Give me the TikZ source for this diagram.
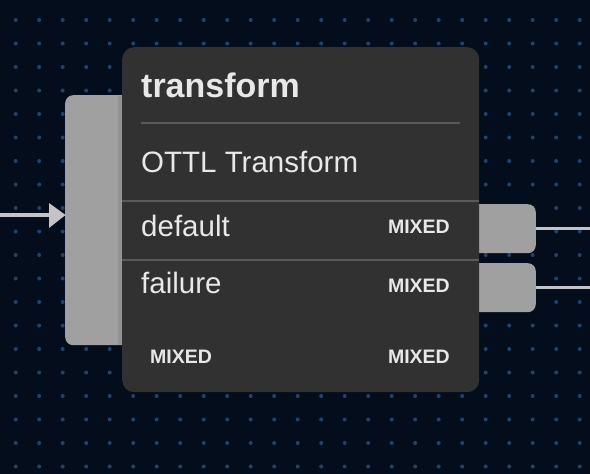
\documentclass[tikz,border=0pt]{standalone}
\usepackage{fontspec}
\setmainfont{Liberation Sans}
\definecolor{bgc}{HTML}{030D1B}
\definecolor{dotc}{HTML}{21436B}
\definecolor{cardc}{HTML}{313131}
\definecolor{portc}{HTML}{A0A0A0}
\definecolor{sepc}{HTML}{5A5A5A}
\definecolor{txtc}{HTML}{E8E8E8}
\definecolor{wirec}{HTML}{C4C4C8}
\tikzset{
  portbox/.style={fill=portc, draw=none, rounded corners=8pt, inner sep=0pt},
  wire/.style={draw=wirec, line width=3pt},
  sepline/.style={draw=sepc, line width=2pt},
  title/.style={anchor=base west, inner sep=0pt, text=txtc, font=\fontsize{34}{34}\selectfont\bfseries},
  label/.style={anchor=base west, inner sep=0pt, text=txtc, font=\fontsize{29.5}{29.5}\selectfont},
  tag/.style={inner sep=0pt, text=txtc, font=\fontsize{19.5}{19.5}\selectfont\bfseries},
}
\begin{document}
\begin{tikzpicture}[x=1pt,y=-1pt]
\fill[bgc] (0,0) rectangle (590,474);
\useasboundingbox (0,0) rectangle (590,474);
% dot grid
\foreach \i in {0,...,24} {
  \foreach \j in {0,...,19} {
    \fill[dotc] ({15.7+23.5*\i},{20+23.5*\j}) circle (2pt);
  }
}
% input port
\node[portbox, minimum width=70pt, minimum height=250pt, anchor=north west] (inport) at (65,95) {};
% output ports
\node[portbox, minimum width=70pt, minimum height=49pt, anchor=north east] (outdef) at (536,204) {};
\node[portbox, minimum width=70pt, minimum height=49pt, anchor=north east] (outfail) at (536,263) {};
% card
\node[fill=cardc, rounded corners=12pt, minimum width=357pt, minimum height=345pt, anchor=north west, inner sep=0pt] (card) at (122,47) {};
\fill[black, opacity=0.08] (118,95.5) rectangle (122,344.5);
% separators
\draw[sepline] (141,123) -- (460,123);
\draw[sepline] (122,201) -- (479,201);
\draw[sepline] (122,260) -- (479,260);
% texts
\node[title] (ttl) at (141,97) {transform};
\node[label] (sub) at (141,172) {OTTL Transform};
\node[label] (ldef) at (141,236) {default};
\node[label] (lfail) at (141,293) {failure};
\node[tag, anchor=base east] (tdef) at (450,233) {MIXED};
\node[tag, anchor=base east] (tfail) at (450,292) {MIXED};
\node[tag, anchor=base west] (tin) at (150,363) {MIXED};
\node[tag, anchor=base east] (tout) at (450,363) {MIXED};
% wires
\coordinate (src) at (0,215);
\coordinate (dst1) at (590,228);
\coordinate (dst2) at (590,287);
\draw[wire, line width=4pt] (src) -- (50,215);
\fill[wirec] (49,203) -- (65.5,215) -- (49,228) -- cycle;
\draw[wire] (outdef.east |- 0,228) -- (dst1);
\draw[wire] (outfail.east |- 0,287) -- (dst2);
\end{tikzpicture}
\end{document}
